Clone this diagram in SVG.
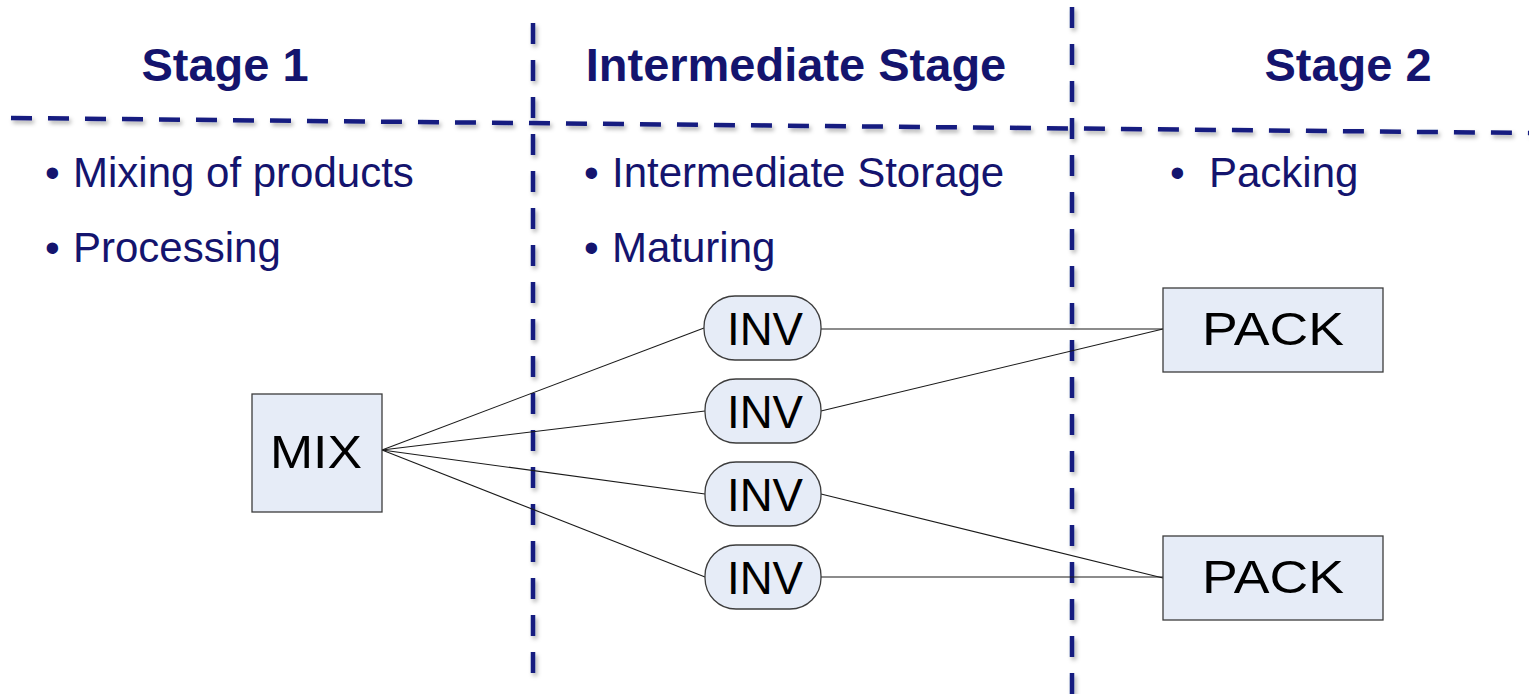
<svg xmlns="http://www.w3.org/2000/svg" width="1529" height="694" viewBox="0 0 1529 694">
  <defs>
    <filter id="soft" x="-5%" y="-5%" width="110%" height="110%">
      <feDropShadow dx="2" dy="3" stdDeviation="2" flood-color="#000" flood-opacity="0.3"/>
    </filter>
    <style>
      .divider { stroke: #161c80; stroke-width: 4.5; stroke-dasharray: 21 16; fill: none; }
      .head { font-family: "Liberation Sans", Arial, sans-serif; font-weight: bold; font-size: 47px; fill: #14146e; text-anchor: middle; }
      .bullet { font-family: "Liberation Sans", Arial, sans-serif; font-size: 42px; fill: #14146e; }
      .box { fill: #e6ecf7; stroke: #3c3c3c; stroke-width: 1.3; }
      .label { font-family: "Liberation Sans", Arial, sans-serif; font-size: 46px; fill: #000; text-anchor: middle; }
      .edge { stroke: #1a1a1a; stroke-width: 1.1; fill: none; }
    </style>
  </defs>
  <rect width="1529" height="694" fill="#fff"/>

  <!-- stage dividers -->
  <g id="dividers" filter="url(#soft)">
    <line class="divider" x1="11" y1="118" x2="1529" y2="133"/>
    <line class="divider" x1="533" y1="23" x2="533" y2="673"/>
    <line class="divider" x1="1072" y1="7" x2="1072" y2="694"/>
  </g>

  <!-- column headings -->
  <g id="headings">
    <text class="head" x="225" y="81">Stage 1</text>
    <text class="head" x="796" y="81">Intermediate Stage</text>
    <text class="head" x="1348" y="81">Stage 2</text>
  </g>

  <!-- bullet notes -->
  <g id="notes">
    <text class="bullet" x="45" y="187">•</text>
    <text class="bullet" x="73" y="187">Mixing of products</text>
    <text class="bullet" x="45" y="262">•</text>
    <text class="bullet" x="73" y="262">Processing</text>
    <text class="bullet" x="584" y="187">•</text>
    <text class="bullet" x="612" y="187">Intermediate Storage</text>
    <text class="bullet" x="584" y="262">•</text>
    <text class="bullet" x="612" y="262">Maturing</text>
    <text class="bullet" x="1170" y="187">•</text>
    <text class="bullet" x="1209" y="187">Packing</text>
  </g>

  <!-- connectors -->
  <g id="connectors">
    <line class="edge" x1="382" y1="450" x2="704" y2="328"/>
    <line class="edge" x1="382" y1="450" x2="705" y2="411"/>
    <line class="edge" x1="382" y1="450" x2="705" y2="494"/>
    <line class="edge" x1="382" y1="450" x2="705" y2="577"/>
    <line class="edge" x1="821" y1="329" x2="1163" y2="329"/>
    <line class="edge" x1="821" y1="411" x2="1163" y2="329"/>
    <line class="edge" x1="821" y1="494" x2="1163" y2="578"/>
    <line class="edge" x1="821" y1="577" x2="1163" y2="577"/>
  </g>

  <g id="mix">
    <rect class="box" x="252" y="394" width="130" height="118"/>
    <text class="label" x="316" y="468" textLength="92" lengthAdjust="spacingAndGlyphs">MIX</text>
  </g>

  <g id="inv1">
    <rect class="box" x="704" y="296" width="117" height="64" rx="31" ry="31"/>
    <text class="label" x="765" y="345" textLength="76" lengthAdjust="spacingAndGlyphs">INV</text>
  </g>
  <g id="inv2">
    <rect class="box" x="705" y="379" width="116" height="64" rx="31" ry="31"/>
    <text class="label" x="765" y="428" textLength="76" lengthAdjust="spacingAndGlyphs">INV</text>
  </g>
  <g id="inv3">
    <rect class="box" x="705" y="462" width="116" height="64" rx="31" ry="31"/>
    <text class="label" x="765" y="511" textLength="76" lengthAdjust="spacingAndGlyphs">INV</text>
  </g>
  <g id="inv4">
    <rect class="box" x="705" y="545" width="116" height="64" rx="31" ry="31"/>
    <text class="label" x="765" y="594" textLength="76" lengthAdjust="spacingAndGlyphs">INV</text>
  </g>

  <g id="pack1">
    <rect class="box" x="1163" y="288" width="220" height="84"/>
    <text class="label" x="1273" y="345" textLength="142" lengthAdjust="spacingAndGlyphs">PACK</text>
  </g>
  <g id="pack2">
    <rect class="box" x="1163" y="536" width="220" height="84"/>
    <text class="label" x="1273" y="593" textLength="142" lengthAdjust="spacingAndGlyphs">PACK</text>
  </g>
</svg>
